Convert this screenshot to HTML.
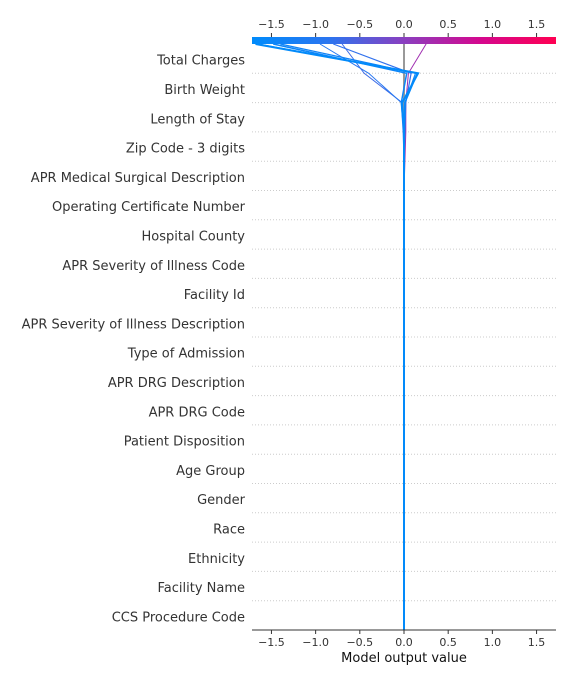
<!DOCTYPE html>
<html><head><meta charset="utf-8"><style>
html,body{margin:0;padding:0;background:#fff;width:576px;height:684px;overflow:hidden}
text{font-family:"DejaVu Sans","Liberation Sans",sans-serif}
</style></head><body>
<svg id="chart" width="576" height="684" viewBox="0 0 576 684" xmlns="http://www.w3.org/2000/svg">
<defs><linearGradient id="cm" x1="0" x2="1" y1="0" y2="0">
<stop offset="0" stop-color="#008bfb"/><stop offset="0.25" stop-color="#2a75f0"/><stop offset="0.5" stop-color="#8a3fc0"/><stop offset="0.75" stop-color="#d4088e"/><stop offset="1" stop-color="#ff0052"/></linearGradient></defs>
<g id="grid"></g><g id="lines"></g><g id="axes"></g>
</svg>
<script>
const features = ["Total Charges","Birth Weight","Length of Stay","Zip Code - 3 digits","APR Medical Surgical Description","Operating Certificate Number","Hospital County","APR Severity of Illness Code","Facility Id","APR Severity of Illness Description","Type of Admission","APR DRG Description","APR DRG Code","Patient Disposition","Age Group","Gender","Race","Ethnicity","Facility Name","CCS Procedure Code"];
const ticks = [-1.5,-1.0,-0.5,0.0,0.5,1.0,1.5];
const tickLabels = ["\u22121.5","\u22121.0","\u22120.5","0.0","0.5","1.0","1.5"];
const baseValue = 0;
const sampleA = [-1.68,0.16,-0.02,0,0,0];
const sampleB = [-1.66,0.15,0.01,0,0,0];
const sampleC = [-1.48,0.03,-0.03,0,0,0];
const sampleD = [-1.40,0.13,0.01,0,0,0];
const sampleE = [-0.95,-0.40,-0.03,-0.01,0,0];
const sampleF = [-0.80,0.08,0.02,0.01,0,0];
const sampleG = [-0.70,-0.45,-0.02,0,0,0];
const sampleH = [0.25,0.05,0.02,0.02,0.01,0];
const samples = [sampleA,sampleB,sampleC,sampleD,sampleE,sampleF,sampleG,sampleH];
const widths = [2,1.5,1.5,1.2,1,1.2,1,1];

const NS="http://www.w3.org/2000/svg";
const x0=252,x1=556,xmin=-1.72,xmax=1.72,yTop=44,yBot=630;
const xs=v=>x0+(v-xmin)/(xmax-xmin)*(x1-x0);
const step=(yBot-yTop)/features.length;
const ys=i=>yTop+i*step;
function mk(tag,attrs,parent){const e=document.createElementNS(NS,tag);for(const k in attrs)e.setAttribute(k,attrs[k]);parent.appendChild(e);return e;}
function color(v){const t=Math.max(0,Math.min(1,(v-xmin)/(xmax-xmin)));
 const stops=[[0,[0,139,251]],[0.25,[42,117,240]],[0.5,[138,63,192]],[0.75,[212,8,142]],[1,[255,0,82]]];
 for(let i=1;i<stops.length;i++){if(t<=stops[i][0]){const a=stops[i-1],b=stops[i],f=(t-a[0])/(b[0]-a[0]);return "rgb("+a[1].map((c,j)=>Math.round(c+(b[1][j]-c)*f)).join(",")+")";}}return "rgb(255,0,82)";}
const grid=document.getElementById('grid'),lines=document.getElementById('lines'),axes=document.getElementById('axes');
features.forEach((f,i)=>{
 if(i>0){const g=mk('line',{x1:x0,x2:x1,y1:ys(i),y2:ys(i),stroke:'#ccc','stroke-width':1,'stroke-dasharray':'1,2'},grid);
 
 }
 const t=mk('text',{x:245,y:ys(i)+step/2+6,'text-anchor':'end','font-size':13,fill:'#333'},axes);t.textContent=f;
 
 
});
const bl=mk('line',{x1:xs(baseValue),x2:xs(baseValue),y1:yTop,y2:yBot,stroke:'#999','stroke-width':2},grid);


samples.slice().reverse().forEach((s,k)=>{
 const idx=samples.length-1-k;
 const pts=[];
 for(let i=0;i<=features.length;i++){const v=i<s.length?s[i]:baseValue;pts.push(xs(v).toFixed(1)+","+ys(i).toFixed(1));}
 const p=mk('polyline',{points:pts.join(" "),fill:'none',stroke:color(s[0]),'stroke-width':widths[idx],'stroke-linejoin':'miter'},lines);
 
 
});
const cb=mk('rect',{x:x0,y:37,width:x1-x0,height:7,fill:'url(#cm)'},axes);


const xa=mk('line',{x1:x0,x2:x1,y1:yBot,y2:yBot,stroke:'#333','stroke-width':1},axes);


ticks.forEach((v,i)=>{
 mk('line',{x1:xs(v),x2:xs(v),y1:yBot,y2:yBot+4,stroke:'#333'},axes);
 mk('line',{x1:xs(v),x2:xs(v),y1:33,y2:37,stroke:'#333'},axes);
 const b=mk('text',{x:xs(v),y:yBot+16,'text-anchor':'middle','font-size':11,fill:'#333'},axes);b.textContent=tickLabels[i];
 
 
 const t=mk('text',{x:xs(v),y:28,'text-anchor':'middle','font-size':11,fill:'#333'},axes);t.textContent=tickLabels[i];
 
 
});
const xt=mk('text',{x:404,y:662,'text-anchor':'middle','font-size':13,fill:'#111'},axes);xt.textContent="Model output value";


</script>
</body></html>
